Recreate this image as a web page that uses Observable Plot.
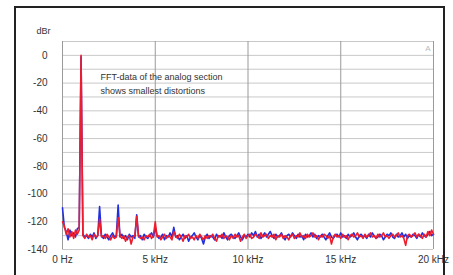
<!DOCTYPE html>
<html><head><meta charset="utf-8">
<script src="https://cdn.jsdelivr.net/npm/d3@7"></script>
<script src="https://cdn.jsdelivr.net/npm/@observablehq/plot@0.6"></script>
<style>
html,body{margin:0;padding:0;background:#fff;}
#wrap{position:relative;width:453px;height:275px;overflow:hidden;}
#frame{position:absolute;left:14px;top:6px;width:431px;height:290px;border:2px solid #222;box-sizing:border-box;pointer-events:none;}
svg{font-family:Arial,"Liberation Sans",sans-serif;}
</style></head><body>
<div id="wrap"><div id="frame"></div></div>
<script>
const freqStepKHz = 0.1;
const blueDb = [
-110,-124,-127,-133,-126,-130,-128,-131,-125,-124,
-1,-129,-131,-130,-132,-129,-131,-128,-132,-130,
-109,-130,-132,-129,-131,-133,-130,-128,-131,-130,
-108,-131,-129,-132,-130,-133,-129,-131,-130,-132,
-115,-131,-130,-133,-129,-131,-132,-130,-128,-131,
-124,-130,-132,-131,-129,-133,-130,-131,-128,-131,
-124,-131,-130,-133,-131,-129,-132,-130,-134,-131,
-130,-128,-131,-133,-130,-132,-136,-131,-129,-132,
-130,-131,-133,-129,-131,-130,-132,-128,-131,-133,
-130,-129,-131,-132,-130,-128,-131,-133,-130,-131,
-129,-131,-128,-130,-127,-131,-129,-132,-130,-128,
-131,-129,-127,-130,-132,-129,-131,-130,-128,-131,
-133,-130,-129,-131,-128,-130,-132,-129,-131,-130,
-133,-129,-131,-130,-128,-131,-129,-132,-130,-131,
-129,-131,-133,-130,-128,-131,-132,-130,-129,-131,
-128,-131,-130,-132,-129,-131,-130,-128,-131,-133,
-130,-129,-131,-130,-132,-129,-131,-128,-130,-132,
-131,-129,-130,-133,-131,-129,-130,-128,-131,-132,
-129,-131,-130,-128,-131,-129,-132,-130,-131,-129,
-130,-132,-129,-131,-128,-130,-131,-129,-127,-130,
-129];
const redDb = [
-120,-123,-129,-125,-131,-127,-132,-126,-129,-126,
0,-130,-132,-129,-131,-130,-133,-129,-131,-130,
-118,-131,-130,-132,-129,-131,-133,-130,-132,-131,
-117,-130,-132,-130,-134,-131,-130,-136,-131,-130,
-116,-130,-132,-131,-133,-130,-131,-129,-132,-130,
-120,-131,-130,-133,-131,-129,-132,-130,-131,-133,
-127,-130,-132,-129,-131,-134,-130,-131,-129,-132,
-131,-133,-130,-132,-129,-131,-133,-130,-132,-130,
-131,-129,-132,-134,-130,-131,-129,-132,-130,-131,
-133,-130,-132,-129,-131,-130,-134,-131,-129,-132,
-130,-129,-132,-131,-129,-130,-132,-128,-131,-130,
-129,-132,-130,-131,-129,-133,-130,-131,-129,-132,
-130,-131,-133,-130,-129,-132,-130,-131,-128,-131,
-130,-132,-129,-131,-130,-128,-131,-130,-133,-130,
-131,-129,-130,-132,-130,-136,-131,-129,-131,-130,
-132,-129,-131,-130,-133,-130,-129,-131,-130,-128,
-131,-130,-132,-129,-131,-130,-128,-131,-130,-132,
-129,-131,-130,-128,-131,-130,-132,-130,-129,-131,
-130,-128,-131,-130,-132,-137,-130,-129,-131,-130,
-128,-131,-129,-130,-132,-129,-131,-127,-130,-126,
-129];
const yTicks = [0,-20,-40,-60,-80,-100,-120,-140];
const xTicks = [0,5,10,15,20];
const xTickLabels = ["0 Hz","5 kHz","10 kHz","15 kHz","20 kHz"];
const hGrid = [10,0,-10,-20,-30,-40,-50,-60,-70,-80,-90,-100,-110,-120,-130,-140];
const noteLines = ["FFT-data of the analog section","shows smallest distortions"];

const blue = blueDb.map((v,i)=>({f:i*freqStepKHz, db:v}));
const red = redDb.map((v,i)=>({f:i*freqStepKHz, db:v}));

const chart = Plot.plot({
  width:453, height:275,
  marginLeft:62, marginRight:20, marginTop:41, marginBottom:26,
  x:{domain:[0,20]}, y:{domain:[-140,10]},
  style:{fontFamily:"Arial, 'Liberation Sans', sans-serif", background:"transparent"},
  marks:[
    Plot.ruleY(hGrid,{stroke:"#c8c8c8",strokeWidth:1}),
    Plot.ruleX(xTicks,{stroke:"#9a9a9a",strokeWidth:1}),
    Plot.line(blue,{x:"f",y:"db",stroke:"#2030e0",strokeWidth:1.6}),
    Plot.line(red,{x:"f",y:"db",stroke:"#ee1c2c",strokeWidth:1.6}),
    Plot.axisY(yTicks,{tickSize:0,tickPadding:15,fontSize:10,color:"#333",label:null,tickFormat:d=>String(d)}),
    Plot.axisX(xTicks,{tickSize:0,tickPadding:6,fontSize:10,color:"#333",label:null,tickFormat:(d,i)=>xTickLabels[i]}),
    Plot.text(["dBr"],{frameAnchor:"top-left",dx:-26,dy:-14,fontSize:9,fill:"#333"}),
    Plot.text([noteLines[0]],{x:2.05,y:-16,textAnchor:"start",fontSize:9,fill:"#333"}),
    Plot.text([noteLines[1]],{x:2.05,y:-26,textAnchor:"start",fontSize:9,fill:"#333"}),
    Plot.text(["A"],{x:19.7,y:5,fontSize:8,fill:"#bbb"})
  ]
});
document.getElementById("wrap").prepend(chart);
chart.style.position="absolute";chart.style.left="0";chart.style.top="0";
</script>
</body></html>
